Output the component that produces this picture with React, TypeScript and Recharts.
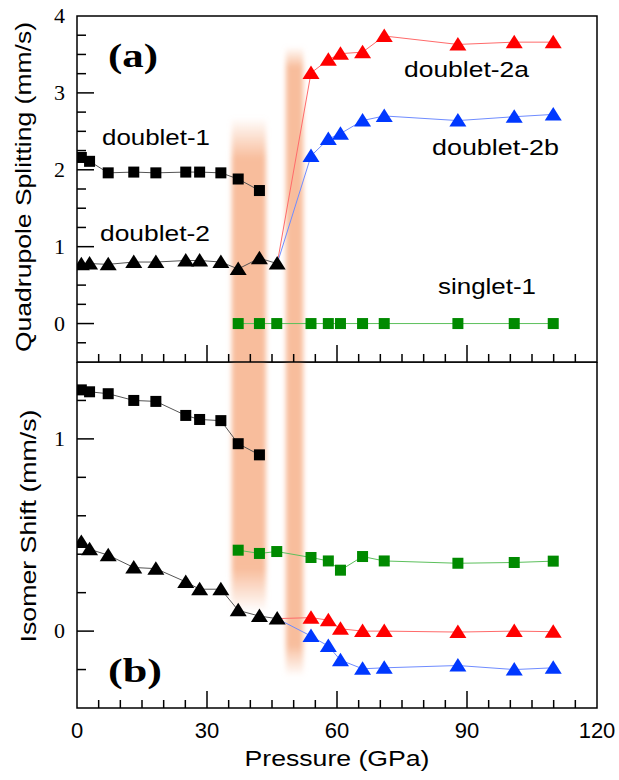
import React from "react";
import { LineChart, Line, XAxis, YAxis, ReferenceArea } from "recharts";

// pressure axis ticks (GPa), majors every 30
const xTicks = [0, 5, 10, 15, 20, 25, 30, 35, 40, 45, 50, 55, 60, 65, 70, 75, 80, 85, 90, 95, 100, 105, 110, 115, 120];
const qsTicks = [-0.5, -0.25, 0, 0.25, 0.5, 0.75, 1, 1.25, 1.5, 1.75, 2, 2.25, 2.5, 2.75, 3, 3.25, 3.5, 3.75, 4];
const isTicks = [-0.4, -0.2, 0, 0.2, 0.4, 0.6, 0.8, 1, 1.2, 1.4];

// low pressure sites
const d1P = [1.0, 2.9, 7.2, 13.1, 18.2, 25.1, 28.3, 33.2, 37.2, 42.1];
const d1QS = [2.16, 2.11, 1.96, 1.97, 1.96, 1.97, 1.97, 1.96, 1.88, 1.73];
const d1IS = [1.255, 1.245, 1.235, 1.2, 1.195, 1.122, 1.101, 1.095, 0.975, 0.917];

const d2P = [1.0, 2.9, 7.2, 13.1, 18.2, 25.1, 28.3, 33.2, 37.2, 42.1, 46.2];
const d2QS = [0.77, 0.78, 0.77, 0.8, 0.8, 0.82, 0.82, 0.8, 0.71, 0.85, 0.78];
const d2IS = [0.464, 0.426, 0.395, 0.331, 0.325, 0.256, 0.218, 0.218, 0.108, 0.078, 0.065];

// singlet
const s1P = [37.2, 42.1, 46.1, 54.0, 58.0, 60.8, 65.9, 70.9, 87.9, 100.9, 109.9];
const s1QS = [0, 0, 0, 0, 0, 0, 0, 0, 0, 0, 0];
const s1IS = [0.421, 0.404, 0.414, 0.383, 0.365, 0.317, 0.388, 0.365, 0.353, 0.357, 0.364];

// high pressure doublets (split off doublet-2)
const hpP = [54.0, 58.0, 60.8, 65.9, 70.9, 87.9, 100.9, 109.9];
const d2aQS = [3.26, 3.43, 3.51, 3.53, 3.74, 3.63, 3.66, 3.66];
const d2bQS = [2.18, 2.4, 2.47, 2.64, 2.7, 2.64, 2.69, 2.72];
const d2aIS = [0.07, 0.057, 0.012, 0.0, 0.0, -0.005, 0.0, -0.003];
const d2bIS = [-0.026, -0.078, -0.151, -0.196, -0.191, -0.179, -0.2, -0.191];

// transition regions (GPa)
const band1 = [35.7, 43.6];
const band2 = [48.2, 52.2];

const zip = (p: number[], v: number[]) => p.map((x, i) => ({ p: x, v: v[i] }));
// red/blue branches start from last doublet-2 point (no marker there)
const branch = (v: number[], from: number[]) => [
  { p: d2P[d2P.length - 1], v: from[from.length - 1], hide: true },
  ...zip(hpP, v),
];

const sansFont = "'Liberation Sans', Arial, sans-serif";
const serifFont = "'Liberation Serif', 'Times New Roman', serif";

// plot size in px per data unit (plot area is 520 x 346 px in both panels)
const PX_X = 520 / 120;
const PX_QS = 346 / 4.5;
const PX_IS = 346 / 1.8;

const square = (color: string) => (props: any) => {
  const { cx, cy, index } = props;
  return <rect key={index} x={cx - 5.5} y={cy - 5.5} width={11} height={11} fill={color} />;
};

const triangle = (color: string) => (props: any) => {
  const { cx, cy, index, payload } = props;
  if (payload?.hide) return <g key={index} />;
  return <path key={index} d={`M${cx},${cy - 7.5} L${cx + 8.5},${cy + 6} L${cx - 8.5},${cy + 6} Z`} fill={color} />;
};

// tick labels only; the tick marks themselves are thin reference areas (inward ticks)
const XLabel = (props: any) => {
  const { x, y, payload } = props;
  return (
    <text x={x} y={y + 30} textAnchor="middle" fontFamily={sansFont} fontSize={22}>
      {payload.value % 30 === 0 ? payload.value : ""}
    </text>
  );
};

const NoLabel = () => <g />;

const YLabelTop = (props: any) => {
  const { x, y, payload } = props;
  const v = payload.value;
  return (
    <text x={x - 12} y={y + 7} textAnchor="end" fontFamily={serifFont} fontSize={22}>
      {Number.isInteger(v) && v >= 0 ? v : ""}
    </text>
  );
};

const YLabelBottom = (props: any) => {
  const { x, y, payload } = props;
  const v = payload.value;
  return (
    <text x={x - 12} y={y + 7} textAnchor="end" fontFamily={serifFont} fontSize={22}>
      {v === 0 || v === 1 ? v : ""}
    </text>
  );
};

const xTickMarks = (yMin: number, pxY: number, id: string) =>
  xTicks
    .filter((t) => t > 0 && t < 120)
    .map((t) => {
      const hw = 0.75 / PX_X;
      const len = (t % 30 === 0 ? 17 : 8) / pxY;
      return (
        <ReferenceArea key={`${id}x${t}`} x1={t - hw} x2={t + hw} y1={yMin} y2={yMin + len} fill="#000" fillOpacity={1} stroke="none" ifOverflow="visible" />
      );
    });

const yTickMarks = (ticks: number[], pxY: number, id: string) =>
  ticks.slice(1, -1).map((v) => {
    const hh = 0.75 / pxY;
    const len = (Math.abs(v - Math.round(v)) < 1e-9 ? 17 : 9) / PX_X;
    return (
      <ReferenceArea key={`${id}y${v}`} x1={0} x2={len} y1={v - hh} y2={v + hh} fill="#000" fillOpacity={1} stroke="none" ifOverflow="visible" />
    );
  });

const bandShape = (fillId: string) => (p: any) => (
  <rect x={p.x} y={p.y} width={p.width} height={p.height} fill={`url(#${fillId})`} filter="url(#bl)" clipPath={p.clipPath} />
);

const BAND = "#f8bd9c";

const lp = { type: "linear" as const, dataKey: "v", strokeWidth: 1, isAnimationActive: false, activeDot: false, legendType: "none" as const };

function TopPanel() {
  return (
    <LineChart width={619} height={380} margin={{ top: 16, right: 22, left: 0, bottom: 0 }}>
      <XAxis type="number" dataKey="p" domain={[0, 120]} ticks={xTicks} interval={0} allowDataOverflow height={18} axisLine={false} tickLine={false} tickSize={0} tickMargin={0} tick={NoLabel} />
      <YAxis type="number" domain={[-0.5, 4]} ticks={qsTicks} interval={0} allowDataOverflow width={77} axisLine={false} tickLine={false} tickSize={0} tickMargin={0} tick={YLabelTop} />
      <ReferenceArea x1={band1[0]} x2={band1[1]} y1={2.68} y2={-0.9} ifOverflow="hidden" shape={bandShape("g1")} />
      <ReferenceArea x1={band2[0]} x2={band2[1]} y1={3.6} y2={-0.9} ifOverflow="hidden" shape={bandShape("g2")} />
      {xTickMarks(-0.5, PX_QS, "t")}
      {yTickMarks(qsTicks, PX_QS, "t")}
      <Line {...lp} data={zip(d1P, d1QS)} stroke="#555" dot={square("#000")} />
      <Line {...lp} data={zip(d2P, d2QS)} stroke="#555" dot={triangle("#000")} />
      <Line {...lp} data={zip(s1P, s1QS)} stroke="#5cc05c" dot={square("#008a00")} />
      <Line {...lp} data={branch(d2aQS, d2QS)} stroke="#ff6a6a" dot={triangle("#ff0000")} />
      <Line {...lp} data={branch(d2bQS, d2QS)} stroke="#6f8cff" dot={triangle("#0038ff")} />
      <ReferenceArea x1={0} x2={120} y1={-0.5} y2={4} fill="none" fillOpacity={0} stroke="#000" strokeWidth={1.5} ifOverflow="visible" />
    </LineChart>
  );
}

function BottomPanel() {
  return (
    <LineChart width={619} height={418} margin={{ top: 0, right: 22, left: 0, bottom: 0 }}>
      <XAxis type="number" dataKey="p" domain={[0, 120]} ticks={xTicks} interval={0} allowDataOverflow height={72} axisLine={false} tickLine={false} tickSize={0} tickMargin={0} tick={XLabel} />
      <YAxis type="number" domain={[-0.4, 1.4]} ticks={isTicks} interval={0} allowDataOverflow width={77} axisLine={false} tickLine={false} tickSize={0} tickMargin={0} tick={YLabelBottom} />
      <ReferenceArea x1={band1[0]} x2={band1[1]} y1={1.6} y2={0.1} ifOverflow="hidden" shape={bandShape("g3")} />
      <ReferenceArea x1={band2[0]} x2={band2[1]} y1={1.6} y2={-0.236} ifOverflow="hidden" shape={bandShape("g4")} />
      {xTickMarks(-0.4, PX_IS, "b")}
      {yTickMarks(isTicks, PX_IS, "b")}
      <Line {...lp} data={zip(d1P, d1IS)} stroke="#555" dot={square("#000")} />
      <Line {...lp} data={zip(d2P, d2IS)} stroke="#555" dot={triangle("#000")} />
      <Line {...lp} data={zip(s1P, s1IS)} stroke="#5cc05c" dot={square("#008a00")} />
      <Line {...lp} data={branch(d2aIS, d2IS)} stroke="#ff6a6a" dot={triangle("#ff0000")} />
      <Line {...lp} data={branch(d2bIS, d2IS)} stroke="#6f8cff" dot={triangle("#0038ff")} />
      <ReferenceArea x1={0} x2={120} y1={-0.4} y2={1.4} fill="none" fillOpacity={0} stroke="#000" strokeWidth={1.5} ifOverflow="visible" />
    </LineChart>
  );
}

export default function App() {
  const lbl = { fontFamily: sansFont, fontSize: 22 };
  return (
    <div style={{ position: "absolute", left: 0, top: 0, width: 619, height: 780, background: "#fff" }}>
      <svg width={0} height={0} style={{ position: "absolute" }}>
        <defs>
          <filter id="bl" x="-1" y="-0.2" width="3" height="1.4">
            <feGaussianBlur stdDeviation="2.5" />
          </filter>
          <linearGradient id="g1" x1="0" y1="0" x2="0" y2="1">
            <stop offset="0" stopColor={BAND} stopOpacity={0} />
            <stop offset="0.15" stopColor={BAND} stopOpacity={1} />
          </linearGradient>
          <linearGradient id="g2" x1="0" y1="0" x2="0" y2="1">
            <stop offset="0" stopColor={BAND} stopOpacity={0} />
            <stop offset="0.06" stopColor={BAND} stopOpacity={1} />
          </linearGradient>
          <linearGradient id="g3" x1="0" y1="0" x2="0" y2="1">
            <stop offset="0.85" stopColor={BAND} stopOpacity={1} />
            <stop offset="1" stopColor={BAND} stopOpacity={0} />
          </linearGradient>
          <linearGradient id="g4" x1="0" y1="0" x2="0" y2="1">
            <stop offset="0.91" stopColor={BAND} stopOpacity={1} />
            <stop offset="1" stopColor={BAND} stopOpacity={0} />
          </linearGradient>
        </defs>
      </svg>
      <div style={{ position: "absolute", left: 0, top: 0 }}>
        <TopPanel />
      </div>
      <div style={{ position: "absolute", left: 0, top: 362 }}>
        <BottomPanel />
      </div>
      <svg width={619} height={780} style={{ position: "absolute", left: 0, top: 0, pointerEvents: "none" }}>
        <text x={133} y={67} textAnchor="middle" fontFamily={serifFont} fontWeight="bold" fontSize={34} textLength={50} lengthAdjust="spacingAndGlyphs">(a)</text>
        <text x={135} y={682} textAnchor="middle" fontFamily={serifFont} fontWeight="bold" fontSize={34} textLength={54} lengthAdjust="spacingAndGlyphs">(b)</text>
        <text x={102} y={145} {...lbl} textLength={108} lengthAdjust="spacingAndGlyphs">doublet-1</text>
        <text x={100} y={241} {...lbl} textLength={110} lengthAdjust="spacingAndGlyphs">doublet-2</text>
        <text x={404} y={77} {...lbl} textLength={125} lengthAdjust="spacingAndGlyphs">doublet-2a</text>
        <text x={432} y={155} {...lbl} textLength={127} lengthAdjust="spacingAndGlyphs">doublet-2b</text>
        <text x={438} y={294} {...lbl} textLength={98} lengthAdjust="spacingAndGlyphs">singlet-1</text>
        <text x={337} y={766} textAnchor="middle" {...lbl} textLength={185} lengthAdjust="spacingAndGlyphs">Pressure (GPa)</text>
        <text transform="translate(31,187) rotate(-90)" textAnchor="middle" {...lbl} textLength={330} lengthAdjust="spacingAndGlyphs">Quadrupole Splitting (mm/s)</text>
        <text transform="translate(36,526) rotate(-90)" textAnchor="middle" {...lbl} textLength={233} lengthAdjust="spacingAndGlyphs">Isomer Shift (mm/s)</text>
      </svg>
    </div>
  );
}
